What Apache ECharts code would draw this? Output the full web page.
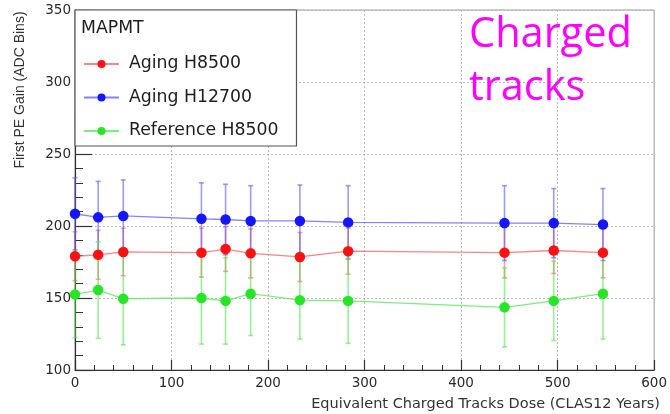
<!DOCTYPE html>
<html>
<head>
<meta charset="utf-8">
<script src="https://cdn.jsdelivr.net/npm/echarts@6/dist/echarts.min.js"></script>
<style>html,body{margin:0;padding:0;background:#fff}#c{width:670px;height:414px}</style>
</head>
<body>
<div id="c"></div>
<script>
// ---- data ----
var dose = [0, 24, 50, 131, 156, 182, 233, 283, 445, 496, 547];
var agingH8500 = [179, 180, 182, 181.5, 184, 181, 178.5, 182.5, 181.5, 183, 181.5];
var agingH8500Err = [17, 17, 16.5, 17, 15.5, 17, 17, 16, 17.5, 16, 17.5];
var agingH12700 = [208.5, 206, 207, 205, 204.5, 203.5, 203.5, 202.5, 202, 202, 201];
var agingH12700Err = [25, 25, 25, 25, 24.5, 24.5, 25, 25.5, 26, 24, 25];
var refH8500 = [152.5, 155.5, 149.5, 150, 148, 153, 148.5, 148, 143.5, 148, 153];
var refH8500Err = [30, 33.5, 32, 32, 30, 29, 27, 29.5, 27.5, 27.5, 31.5];
var seriesNames = ['Aging H8500', 'Aging H12700', 'Reference H8500'];
var legendTitle = 'MAPMT';
var yTitle = 'First PE Gain (ADC Bins)';
var xTitle = 'Equivalent Charged Tracks Dose (CLAS12 Years)';
var note = 'Charged\ntracks';

var markerColors = ['#ff1010', '#1515ff', '#25e625'];
var lineColors = ['rgba(255,90,90,0.75)', 'rgba(90,90,255,0.75)', 'rgba(90,235,90,0.8)'];
var barColors = ['rgba(255,80,80,0.55)', 'rgba(90,90,255,0.6)', 'rgba(80,230,80,0.6)'];

function pts(ys) { return dose.map(function (x, i) { return [x, ys[i]]; }); }
function errData(ys, es) { return dose.map(function (x, i) { return [x, ys[i] - es[i], ys[i] + es[i]]; }); }

function errSeries(ys, es, color) {
  return {
    type: 'custom',
    data: errData(ys, es),
    encode: { x: 0, y: [1, 2] },
    silent: true,
    renderItem: function (params, api) {
      var x = api.value(0);
      var lo = api.coord([x, api.value(1)]);
      var hi = api.coord([x, api.value(2)]);
      var w = 2.5;
      var st = { stroke: color, lineWidth: 1.6 };
      return {
        type: 'group',
        children: [
          { type: 'line', shape: { x1: lo[0], y1: lo[1], x2: hi[0], y2: hi[1] }, style: st },
          { type: 'line', shape: { x1: lo[0] - w, y1: lo[1], x2: lo[0] + w, y2: lo[1] }, style: st },
          { type: 'line', shape: { x1: hi[0] - w, y1: hi[1], x2: hi[0] + w, y2: hi[1] }, style: st }
        ]
      };
    }
  };
}
function lineSeries(name, ys, i) {
  return {
    type: 'line', name: name, data: pts(ys),
    symbol: 'circle', symbolSize: 10.5,
    itemStyle: { color: markerColors[i] },
    lineStyle: { color: lineColors[i], width: 1.3 },
    emphasis: { disabled: true }, animation: false, z: 3
  };
}

var chart = echarts.init(document.getElementById('c'), null, { renderer: 'canvas' });
var tickFont = { fontFamily: 'DejaVu Sans', fontSize: 13.5, color: '#2a2a2a' };
chart.setOption({
  animation: false,
  grid: { left: 75, right: 11, top: 10, bottom: 44, show: true, borderColor: '#999', borderWidth: 1, backgroundColor: 'transparent' },
  xAxis: {
    type: 'value', min: 0, max: 600, interval: 100,
    axisLine: { show: true, lineStyle: { color: '#333', width: 1.2 } },
    axisTick: { show: true, inside: true, length: 10, lineStyle: { color: '#333', width: 1.2 } },
    minorTick: { show: true, splitNumber: 5, length: 5, lineStyle: { color: '#333', width: 1 } },
    axisLabel: Object.assign({ margin: 6 }, tickFont),
    splitLine: { show: true, lineStyle: { color: '#bbb', type: [2, 2], width: 1 } }
  },
  yAxis: {
    type: 'value', min: 100, max: 350, interval: 50,
    axisLine: { show: true, lineStyle: { color: '#333', width: 1.2 } },
    axisTick: { show: true, inside: true, length: 17, lineStyle: { color: '#333', width: 1.2 } },
    minorTick: { show: true, splitNumber: 5, length: 8, lineStyle: { color: '#333', width: 1 } },
    axisLabel: Object.assign({ margin: 4 }, tickFont),
    splitLine: { show: true, lineStyle: { color: '#bbb', type: [2, 2], width: 1 } }
  },
  legend: {
    data: seriesNames,
    orient: 'vertical', left: 75, top: 10,
    padding: [44, 18, 5, 8],
    itemGap: 13.5, itemWidth: 35, itemHeight: 10,
    backgroundColor: '#fff', borderColor: '#555', borderWidth: 1.2,
    textStyle: { fontFamily: 'DejaVu Sans', fontSize: 17.3, color: '#1e1e1e', lineHeight: 20, padding: [0, 0, 0, 5] },
    selectedMode: false, z: 10
  },
  graphic: [
    { type: 'text', left: 81, top: 20, z: 200, style: { text: legendTitle, font: '17.3px "DejaVu Sans"', fill: '#1e1e1e' } },
    { type: 'text', x: 20, y: 90, rotation: Math.PI / 2, z: 100,
      style: { text: yTitle, font: '14px "Liberation Sans"', fill: '#333', align: 'center', verticalAlign: 'middle' } },
    { type: 'text', x: 660, y: 404, z: 100,
      style: { text: xTitle, font: '14.5px "DejaVu Sans"', fill: '#333', align: 'right', verticalAlign: 'middle' } },
    { type: 'text', x: 469, y: 9, z: 100,
      style: { text: note, font: '41.5px "Open Sans"', fill: '#ff00ff', lineHeight: 53, align: 'left', verticalAlign: 'top' } }
  ],
  series: [
    errSeries(agingH8500, agingH8500Err, barColors[0]),
    lineSeries(seriesNames[0], agingH8500, 0),
    errSeries(agingH12700, agingH12700Err, barColors[1]),
    lineSeries(seriesNames[1], agingH12700, 1),
    errSeries(refH8500, refH8500Err, barColors[2]),
    lineSeries(seriesNames[2], refH8500, 2)
  ]
});
</script>
</body>
</html>
